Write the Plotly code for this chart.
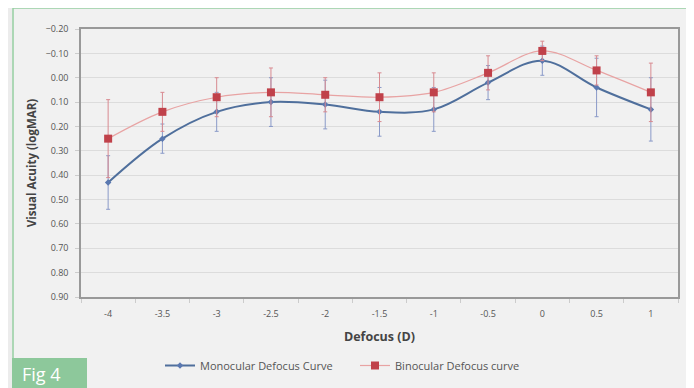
import plotly.graph_objects as go

defocus = ["-4", "-3.5", "-3", "-2.5", "-2", "-1.5", "-1", "-0.5", "0", "0.5", "1"]
monocular = [0.43, 0.25, 0.14, 0.10, 0.11, 0.14, 0.13, 0.02, -0.07, 0.04, 0.13]
monocular_err = [0.11, 0.06, 0.08, 0.10, 0.10, 0.10, 0.09, 0.07, 0.06, 0.12, 0.13]
binocular = [0.25, 0.14, 0.08, 0.06, 0.07, 0.08, 0.06, -0.02, -0.11, -0.03, 0.06]
binocular_err = [0.16, 0.08, 0.08, 0.10, 0.07, 0.10, 0.08, 0.07, 0.04, 0.06, 0.12]
y_ticks = [-0.2, -0.1, 0.0, 0.1, 0.2, 0.3, 0.4, 0.5, 0.6, 0.7, 0.8, 0.9]

# page offset (body margin) and plot area in page pixels
OFF = 8
W, H = 694 - OFF, 388 - OFF
L, R, T, B = 81, 678, 29, 297
def px(x):
    return (x - L) / (R - L)
def py(y):
    return (B - y) / (B - T)

fig = go.Figure()
fig.add_trace(go.Scatter(
    x=defocus, y=monocular, name="Monocular Defocus Curve",
    mode="lines+markers", line=dict(color="#4f6f9c", width=2, shape="spline", smoothing=1.0),
    marker=dict(color="#5a78b0", size=5, symbol="diamond"),
    error_y=dict(type="data", array=monocular_err, color="#8a9ac8", thickness=1, width=2),
))
fig.add_trace(go.Scatter(
    x=defocus, y=binocular, name="Binocular Defocus curve",
    mode="lines+markers", line=dict(color="#e8a3a3", width=1.2, shape="spline", smoothing=1.0),
    marker=dict(color="#c0414a", size=8, symbol="square"),
    error_y=dict(type="data", array=binocular_err, color="#d88a90", thickness=1, width=2),
))

# inner chart area (slightly lighter) and green frame
fig.add_shape(type="rect", xref="paper", yref="paper", x0=px(14), x1=px(688),
              y0=py(400), y1=py(9), line=dict(width=0), fillcolor="#f1f1f1", layer="below")
fig.add_shape(type="rect", xref="paper", yref="paper", x0=px(13), x1=px(689),
              y0=py(400), y1=py(8), line=dict(color="#97d0a2", width=1.5),
              fillcolor="rgba(0,0,0,0)", layer="below")
fig.add_shape(type="rect", xref="paper", yref="paper", x0=px(12), x1=px(87),
              y0=py(392), y1=py(358), line=dict(width=0), fillcolor="#8dc89b", layer="above")
fig.add_annotation(text="Fig 4", xref="paper", yref="paper", x=px(20), y=py(374),
                   xanchor="left", yanchor="middle", showarrow=False,
                   font=dict(family="Open Sans", size=18, color="white"))

fig.update_layout(
    width=W, height=H,
    paper_bgcolor="#ececec", plot_bgcolor="#f4f4f4",
    margin=dict(l=L - OFF, r=694 - R, t=T - OFF, b=388 - B, autoexpand=False),
    font=dict(family="Open Sans", size=9, color="#555555"),
    showlegend=True,
    legend=dict(orientation="h", x=px(160), xanchor="left", y=py(351), yanchor="top",
                font=dict(size=11, color="#555555"), bgcolor="rgba(0,0,0,0)",
                itemwidth=30, entrywidth=150, entrywidthmode="pixels"),
    xaxis=dict(type="category", automargin=False,
               title=dict(text="<b>Defocus (D)</b>", font=dict(size=12.5, color="#444444"), standoff=14),
               showgrid=False, showline=True, linecolor="#999999", linewidth=1.5, mirror=True,
               ticks="outside", tickson="boundaries", ticklen=4, tickcolor="#cccccc",
               ticklabelstandoff=7, range=[-0.5, 10.5]),
    yaxis=dict(range=[0.9, -0.2], tickvals=y_ticks, tickformat=".2f", automargin=False,
               title=dict(text="<b>Visual Acuity (logMAR)</b>", font=dict(size=11.5, color="#444444"), standoff=6),
               showgrid=True, gridcolor="#dcdcdc", gridwidth=1, zeroline=False,
               showline=True, linecolor="#999999", linewidth=1.5, mirror=True,
               ticks="outside", ticklen=4, tickcolor="#cccccc", ticklabelstandoff=5),
)

fig.write_html("out.html")
